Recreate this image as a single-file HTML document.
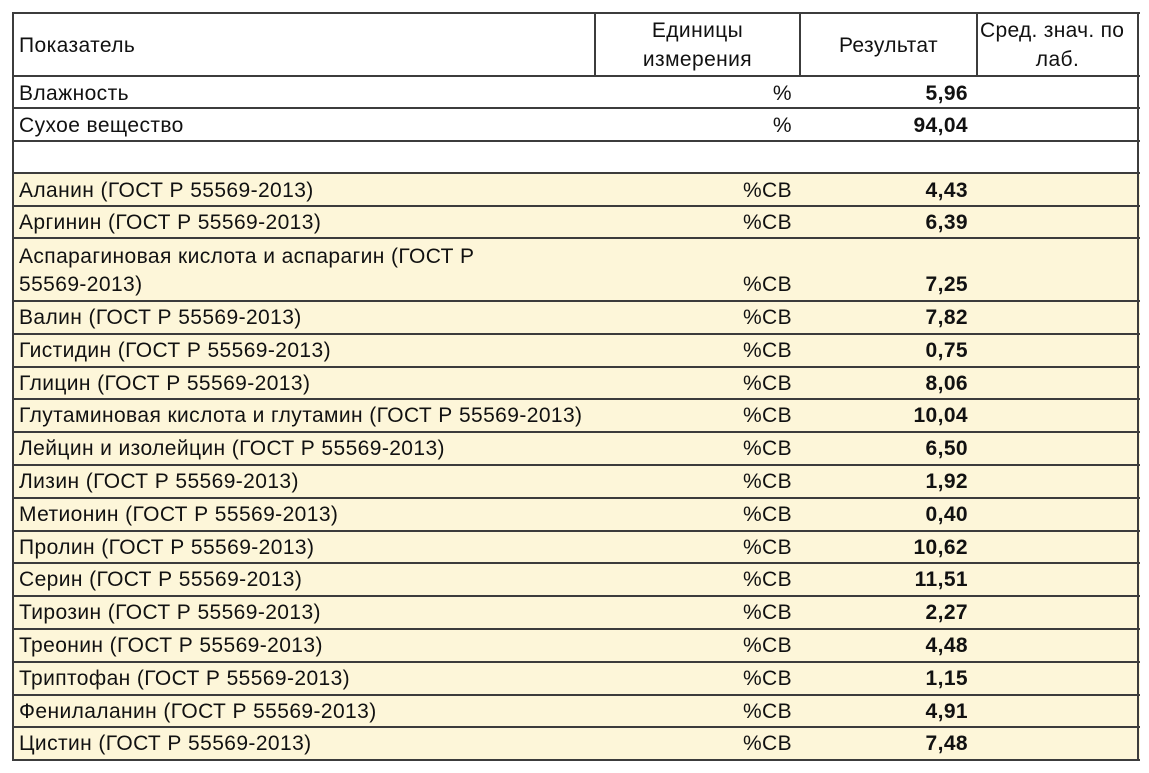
<!DOCTYPE html>
<html>
<head>
<meta charset="utf-8">
<style>
  html,body{margin:0;padding:0;background:#ffffff;}
  body{width:1149px;height:773px;position:relative;overflow:hidden;
       font-family:"Liberation Sans","Noto Sans CJK SC",sans-serif;font-size:21px;color:#111;letter-spacing:0.4px;}
  .a{position:absolute;white-space:nowrap;}
  .hl{position:absolute;left:13px;width:1127px;height:2px;background:#3c3c3c;}
  .vl{position:absolute;width:2px;background:#3c3c3c;}
  .t{position:absolute;height:32px;line-height:32px;white-space:nowrap;}
  .name{left:19px;}
  .unit{right:357px;text-align:right;}
  .res{right:181px;text-align:right;font-weight:bold;}
</style>
</head>
<body>
<!-- yellow fill -->
<div class="a" style="left:13px;top:173px;width:1127px;height:588px;background:#fdf6d9;"></div>

<!-- horizontal lines -->
<div class="hl" style="top:12px;"></div>
<div class="hl" style="top:75px;"></div>
<div class="hl" style="top:107px;"></div>
<div class="hl" style="top:140px;"></div>
<div class="hl" style="top:172px;"></div>
<div class="hl" style="top:205px;"></div>
<div class="hl" style="top:237px;"></div>
<div class="hl" style="top:300px;"></div>
<div class="hl" style="top:333px;"></div>
<div class="hl" style="top:366px;"></div>
<div class="hl" style="top:398px;"></div>
<div class="hl" style="top:431px;"></div>
<div class="hl" style="top:464px;"></div>
<div class="hl" style="top:497px;"></div>
<div class="hl" style="top:530px;"></div>
<div class="hl" style="top:562px;"></div>
<div class="hl" style="top:595px;"></div>
<div class="hl" style="top:628px;"></div>
<div class="hl" style="top:661px;"></div>
<div class="hl" style="top:694px;"></div>
<div class="hl" style="top:726px;"></div>
<div class="hl" style="top:759px;"></div>

<!-- outer verticals -->
<div class="vl" style="left:12px;top:12px;height:749px;"></div>
<div class="vl" style="left:1137px;top:12px;height:749px;"></div>
<!-- header verticals -->
<div class="vl" style="left:594px;top:12px;height:64px;"></div>
<div class="vl" style="left:799px;top:12px;height:64px;"></div>
<div class="vl" style="left:976px;top:12px;height:64px;"></div>

<!-- header text -->
<div class="t" style="left:19px;top:30px;">Показатель</div>
<div class="t" style="left:596px;width:203px;text-align:center;top:15px;">Единицы</div>
<div class="t" style="left:596px;width:203px;text-align:center;top:44px;">измерения</div>
<div class="t" style="left:801px;width:175px;text-align:center;top:30px;">Результат</div>
<div class="t" style="left:980px;top:15px;letter-spacing:0.3px;">Сред. знач. по</div>
<div class="t" style="left:978px;width:159px;text-align:center;top:44px;">лаб.</div>

<!-- rows -->
<div class="t name" style="top:78px;">Влажность</div>
<div class="t unit" style="top:78px;">%</div>
<div class="t res" style="top:78px;">5,96</div>

<div class="t name" style="top:110px;">Сухое вещество</div>
<div class="t unit" style="top:110px;">%</div>
<div class="t res" style="top:110px;">94,04</div>

<div class="t name" style="top:175px;">Аланин (ГОСТ Р 55569-2013)</div>
<div class="t unit" style="top:175px;">%СВ</div>
<div class="t res" style="top:175px;">4,43</div>

<div class="t name" style="top:207px;">Аргинин (ГОСТ Р 55569-2013)</div>
<div class="t unit" style="top:207px;">%СВ</div>
<div class="t res" style="top:207px;">6,39</div>

<div class="t name" style="top:241px;">Аспарагиновая кислота и аспарагин (ГОСТ Р</div>
<div class="t name" style="top:269px;">55569-2013)</div>
<div class="t unit" style="top:269px;">%СВ</div>
<div class="t res" style="top:269px;">7,25</div>

<div class="t name" style="top:302px;">Валин (ГОСТ Р 55569-2013)</div>
<div class="t unit" style="top:302px;">%СВ</div>
<div class="t res" style="top:302px;">7,82</div>

<div class="t name" style="top:335px;">Гистидин (ГОСТ Р 55569-2013)</div>
<div class="t unit" style="top:335px;">%СВ</div>
<div class="t res" style="top:335px;">0,75</div>

<div class="t name" style="top:368px;">Глицин (ГОСТ Р 55569-2013)</div>
<div class="t unit" style="top:368px;">%СВ</div>
<div class="t res" style="top:368px;">8,06</div>

<div class="t name" style="top:400px;">Глутаминовая кислота и глутамин (ГОСТ Р 55569-2013)</div>
<div class="t unit" style="top:400px;">%СВ</div>
<div class="t res" style="top:400px;">10,04</div>

<div class="t name" style="top:433px;">Лейцин и изолейцин (ГОСТ Р 55569-2013)</div>
<div class="t unit" style="top:433px;">%СВ</div>
<div class="t res" style="top:433px;">6,50</div>

<div class="t name" style="top:466px;">Лизин (ГОСТ Р 55569-2013)</div>
<div class="t unit" style="top:466px;">%СВ</div>
<div class="t res" style="top:466px;">1,92</div>

<div class="t name" style="top:499px;">Метионин (ГОСТ Р 55569-2013)</div>
<div class="t unit" style="top:499px;">%СВ</div>
<div class="t res" style="top:499px;">0,40</div>

<div class="t name" style="top:532px;">Пролин (ГОСТ Р 55569-2013)</div>
<div class="t unit" style="top:532px;">%СВ</div>
<div class="t res" style="top:532px;">10,62</div>

<div class="t name" style="top:564px;">Серин (ГОСТ Р 55569-2013)</div>
<div class="t unit" style="top:564px;">%СВ</div>
<div class="t res" style="top:564px;">11,51</div>

<div class="t name" style="top:597px;">Тирозин (ГОСТ Р 55569-2013)</div>
<div class="t unit" style="top:597px;">%СВ</div>
<div class="t res" style="top:597px;">2,27</div>

<div class="t name" style="top:630px;">Треонин (ГОСТ Р 55569-2013)</div>
<div class="t unit" style="top:630px;">%СВ</div>
<div class="t res" style="top:630px;">4,48</div>

<div class="t name" style="top:663px;">Триптофан (ГОСТ Р 55569-2013)</div>
<div class="t unit" style="top:663px;">%СВ</div>
<div class="t res" style="top:663px;">1,15</div>

<div class="t name" style="top:696px;">Фенилаланин (ГОСТ Р 55569-2013)</div>
<div class="t unit" style="top:696px;">%СВ</div>
<div class="t res" style="top:696px;">4,91</div>

<div class="t name" style="top:728px;">Цистин (ГОСТ Р 55569-2013)</div>
<div class="t unit" style="top:728px;">%СВ</div>
<div class="t res" style="top:728px;">7,48</div>
</body>
</html>
